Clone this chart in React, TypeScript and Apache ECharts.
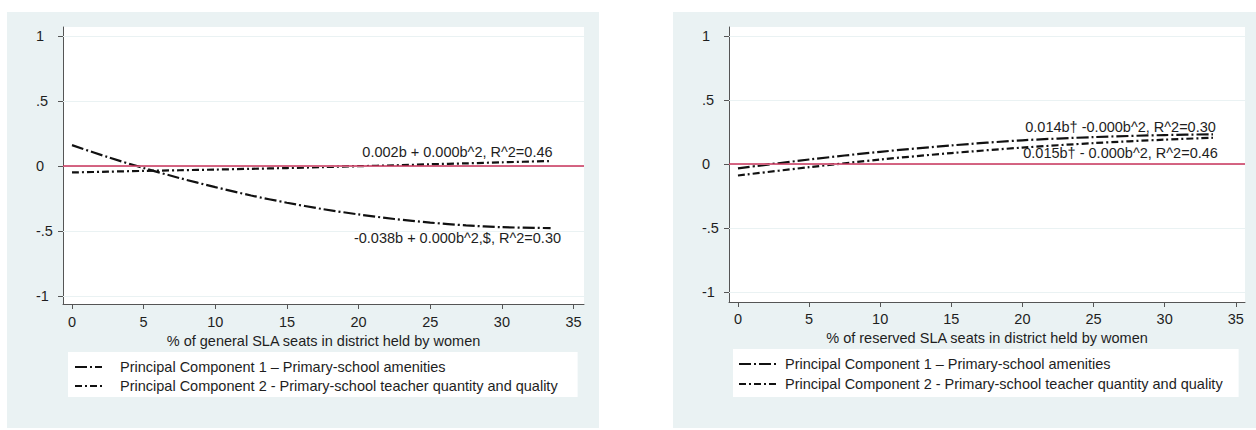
import React, { useEffect, useRef } from "react";
import * as echarts from "echarts";

const PC1_NAME = "Principal Component 1 – Primary-school amenities";
const PC2_NAME = "Principal Component 2 - Primary-school teacher quantity and quality";

const xTickValues = [0, 5, 10, 15, 20, 25, 30, 35];
const yTickValues = [-1, -0.5, 0, 0.5, 1];
const yTickLabels = ["-1", "-.5", "0", ".5", "1"];

const leftTitle = "% of general SLA seats in district held by women";
const rightTitle = "% of reserved SLA seats in district held by women";

const leftX = [0, 2.5, 5, 7.5, 10, 12.5, 15, 17.5, 20, 22.5, 25, 27.5, 30, 33.4];
const leftPC1 = [0.16, 0.068, -0.016, -0.093, -0.163, -0.227, -0.283, -0.332, -0.373, -0.408, -0.436, -0.457, -0.471, -0.478];
const leftPC2 = [-0.05, -0.044, -0.038, -0.033, -0.028, -0.022, -0.016, -0.009, -0.002, 0.005, 0.013, 0.02, 0.028, 0.038];

const rightX = [0, 5, 10, 15, 20, 25, 30, 33.4];
const rightPC1 = [-0.034, 0.035, 0.095, 0.145, 0.185, 0.21, 0.226, 0.232];
const rightPC2 = [-0.09, -0.025, 0.035, 0.085, 0.128, 0.163, 0.19, 0.205];

const leftNotes = [
  { text: "0.002b + 0.000b^2, R^2=0.46", x: 26.9, y: 0.108 },
  { text: "-0.038b + 0.000b^2,$, R^2=0.30", x: 26.9, y: -0.554 },
];
const rightNotes = [
  { text: "0.014b† -0.000b^2, R^2=0.30", x: 26.9, y: 0.289 },
  { text: "0.015b† - 0.000b^2, R^2=0.46", x: 26.9, y: 0.086 },
];

const FONT = "'Liberation Sans', Arial, Helvetica, sans-serif";
const FS = 14.5;
const TEXT = "#1e1e1e";
const AXIS = "#555555";
const BG = "#eaf2f3";
const RED = "#c8325a";
const DASH1 = [12, 3, 2, 3];
const DASH2 = [7, 3, 2, 3];

function zip(xs: number[], ys: number[]) {
  return xs.map((x, i) => [x, ys[i]]);
}

export default function App() {
  const ref = useRef<HTMLDivElement>(null);
  useEffect(() => {
    if (!ref.current) return;
    const chart = echarts.init(ref.current, undefined, { renderer: "svg" });

    const panels = [
      { grid: { left: 63, top: 27, width: 521, height: 277 }, xMin: -0.628, xMax: 35.73, yMin: -1.062, yMax: 1.069, title: leftTitle, labelMargin: 10, nameGap: 24 },
      { grid: { left: 729, top: 27, width: 516, height: 275 }, xMin: -0.63, xMax: 35.65, yMin: -1.078, yMax: 1.07, title: rightTitle, labelMargin: 9, nameGap: 22 },
    ];

    const grids = panels.map((p) => ({ ...p.grid, show: true, backgroundColor: "#ffffff", borderWidth: 0, containLabel: false }));

    const xAxes = panels.map((p, i) => ({
      type: "value",
      gridIndex: i,
      min: p.xMin,
      max: p.xMax,
      name: p.title,
      nameLocation: "middle",
      nameGap: p.nameGap,
      nameTextStyle: { fontFamily: FONT, fontSize: FS, color: TEXT },
      axisLine: { show: true, onZero: false, lineStyle: { color: AXIS, width: 1 } },
      axisTick: { show: true, length: 5, customValues: xTickValues, lineStyle: { color: AXIS } },
      axisLabel: { show: true, customValues: xTickValues, margin: p.labelMargin, fontFamily: FONT, fontSize: FS, color: TEXT },
      splitLine: { show: false },
    }));

    const yAxes = panels.map((p, i) => ({
      type: "value",
      gridIndex: i,
      min: p.yMin,
      max: p.yMax,
      axisLine: { show: true, onZero: false, lineStyle: { color: AXIS, width: 1 } },
      axisTick: { show: true, length: 5, customValues: yTickValues, lineStyle: { color: AXIS } },
      axisLabel: {
        show: true,
        customValues: yTickValues,
        margin: 27,
        align: "left",
        padding: [0, 0, 6, 0],
        fontFamily: FONT,
        fontSize: FS,
        color: TEXT,
        formatter: (v: number) => {
          const idx = yTickValues.findIndex((t) => Math.abs(t - v) < 1e-9);
          return idx >= 0 ? yTickLabels[idx] : "";
        },
      },
      splitLine: { show: false },
    }));

    const refSeries = (i: number) => ({
      type: "line",
      xAxisIndex: i,
      yAxisIndex: i,
      data: [],
      silent: true,
      z: 1,
      markLine: {
        silent: true,
        symbol: "none",
        label: { show: false },
        animation: false,
        data: [
          ...yTickValues.map((v) => ({ yAxis: v, lineStyle: { color: BG, width: 1, type: "solid" } })),
          { yAxis: 0, lineStyle: { color: RED, width: 1.6, type: "solid" } },
        ],
      },
    });

    const notePoints = (notes: { text: string; x: number; y: number }[]) => ({
      symbol: "rect",
      symbolSize: 1,
      itemStyle: { color: "rgba(0,0,0,0)" },
      silent: true,
      animation: false,
      label: {
        show: true,
        position: "inside",
        fontFamily: FONT,
        fontSize: FS,
        color: TEXT,
        formatter: (p: any) => p.name,
      },
      data: notes.map((n) => ({ name: n.text, coord: [n.x, n.y] })),
    });

    const lineSeries = (i: number, name: string, xs: number[], ys: number[], dash: number[], notes: any) => ({
      type: "line",
      name,
      xAxisIndex: i,
      yAxisIndex: i,
      data: zip(xs, ys),
      smooth: 0.3,
      symbol: "none",
      showSymbol: false,
      z: 3,
      lineStyle: { color: "#111111", width: 2.2, type: dash },
      itemStyle: { color: "#111111" },
      markPoint: notes,
    });

    const legendBase = {
      orient: "vertical",
      backgroundColor: "#ffffff",
      borderWidth: 0,
      itemHeight: 12,
      selectedMode: false,
      itemStyle: { color: "rgba(0,0,0,0)", borderColor: "rgba(0,0,0,0)", borderWidth: 0, opacity: 0 },
      data: [PC1_NAME, PC2_NAME],
    };

    chart.setOption({
      animation: false,
      textStyle: { fontFamily: FONT },
      graphic: [
        { type: "rect", z: -10, silent: true, shape: { x: 7, y: 12, width: 592, height: 416 }, style: { fill: BG } },
        { type: "rect", z: -10, silent: true, shape: { x: 673, y: 12, width: 583, height: 416 }, style: { fill: BG } },
      ],
      grid: grids,
      xAxis: xAxes,
      yAxis: yAxes,
      legend: [
        {
          ...legendBase,
          left: 68,
          top: 352,
          itemWidth: 27,
          itemGap: 3,
          padding: [7, 20, 3, 6],
          textStyle: { fontFamily: FONT, fontSize: FS, color: TEXT, lineHeight: 16, padding: [0, 0, 0, 13] },
        },
        {
          ...legendBase,
          left: 733,
          top: 349,
          itemWidth: 39,
          itemGap: 4,
          padding: [7, 16, 5, 5],
          textStyle: { fontFamily: FONT, fontSize: FS, color: TEXT, lineHeight: 16, padding: [0, 0, 0, 2] },
        },
      ],
      series: [
        refSeries(0),
        refSeries(1),
        lineSeries(0, PC1_NAME, leftX, leftPC1, DASH1, notePoints(leftNotes)),
        lineSeries(0, PC2_NAME, leftX, leftPC2, DASH2, undefined),
        lineSeries(1, PC1_NAME, rightX, rightPC1, DASH1, notePoints(rightNotes)),
        lineSeries(1, PC2_NAME, rightX, rightPC2, DASH2, undefined),
      ],
    });

    return () => chart.dispose();
  }, []);

  return (
    <div
      ref={ref}
      style={{ position: "fixed", left: 0, top: 0, width: 1256, height: 430, background: "#ffffff" }}
    />
  );
}
